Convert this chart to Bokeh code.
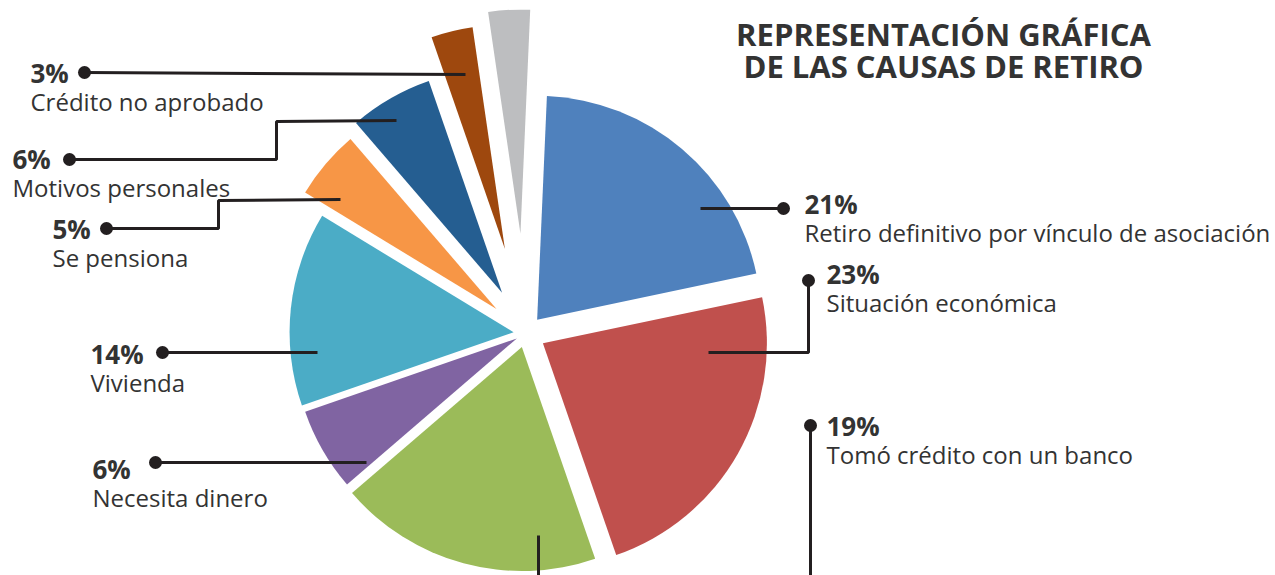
import numpy as np
from bokeh.plotting import figure
from bokeh.models import Range1d
from bokeh.embed import file_html
from bokeh.resources import INLINE
from bokeh.core.properties import value

# ---------------- data ----------------
percents = [21, 23, 19, 6, 14, 5, 6, 3, 3]
categories = [
    "Retiro definitivo por vínculo de asociación",
    "Situación económica",
    "Tomó crédito con un banco",
    "Necesita dinero",
    "Vivienda",
    "Se pensiona",
    "Motivos personales",
    "Crédito no aprobado",
    "",
]
pct_labels = ["21%", "23%", "19%", "6%", "14%", "5%", "6%", "3%", ""]
title_lines = ["REPRESENTACIÓN GRÁFICA", "DE LAS CAUSAS DE RETIRO"]

# ---------------- style ----------------
colors = ["#4F81BD", "#C0504D", "#9BBB59", "#8064A2", "#4BACC6",
          "#F79646", "#255E91", "#9E480E", "#BDBEC0"]
explode = np.array([18, 20, 14, 10, 12, 38, 47, 87, 100], dtype=float)

W, H = 1275, 575
CX, CY = 525, H - 333
R = 224
START = 2.5  # degrees clockwise from 12 o'clock
FONT = "Open Sans"
TXT = "#333333"
LINE = "#231F20"

def Y(y):
    return H - y

p = figure(width=W, height=H, output_backend="svg", toolbar_location=None,
           x_range=Range1d(0, W), y_range=Range1d(0, H), min_border=0)
p.axis.visible = False
p.grid.visible = False
p.outline_line_color = None
p.background_fill_color = "white"
p.border_fill_color = "white"

vals = np.array(percents, dtype=float)
ends = START + 360 * np.cumsum(vals) / vals.sum()
starts = ends - 360 * vals / vals.sum()
bis = np.radians((starts + ends) / 2)
xs = CX + explode * np.sin(bis)
ys = CY + explode * np.cos(bis)
p.wedge(x=xs, y=ys, radius=R,
        start_angle=np.radians(90 - ends), end_angle=np.radians(90 - starts),
        direction="anticlock", fill_color=colors, line_color=None)

# ---------------- leader lines (screen coords, y down) ----------------
leaders = [
    [(700, 208), (783, 208)],                       # 21%
    [(708, 352), (808, 352), (808, 280)],           # 23%
    [(810, 425), (810, 580)],                       # 19%
    [(366, 462), (155, 462)],                       # 6% Necesita
    [(317, 352), (162, 352)],                       # 14%
    [(340, 199), (218, 200), (218, 228), (106, 228)],   # 5%
    [(396, 120), (276, 121), (276, 159), (69, 159)],    # 6% Motivos
    [(465, 74), (84, 72)],                          # 3%
]
for pts in leaders:
    p.line([a for a, b in pts], [Y(b) for a, b in pts], line_color=LINE,
           line_width=3)
p.line([538, 538], [Y(535), Y(580)], line_color=LINE, line_width=3)

dots = [(783, 208), (808, 280), (810, 425), (155, 462), (162, 352),
        (106, 228), (69, 159), (84, 72)]
p.scatter([d[0] for d in dots], [Y(d[1]) for d in dots], size=13,
          fill_color=LINE, line_color=None)

# ---------------- labels ----------------
label_pos = [(804, 203), (826, 273), (826, 425), (92, 468), (90, 353),
             (52, 228), (12, 158), (30, 72)]
for i, (lx, ly) in enumerate(label_pos):
    p.text([lx], [Y(ly)], text=[pct_labels[i]], text_font=value(FONT),
           text_font_style="bold", text_font_size="26px", text_color=TXT,
           text_align="left", text_baseline="middle")
    p.text([lx], [Y(ly + 29)], text=[categories[i]], text_font=value(FONT),
           text_font_size="24px", text_color=TXT,
           text_align="left", text_baseline="middle")

for k, t in enumerate(title_lines):
    p.text([943], [Y(33 + 32 * k)], text=[t], text_font=value(FONT),
           text_font_style="bold", text_font_size="31px", text_color=TXT,
           text_align="center", text_baseline="middle")

open("out.html", "w").write(file_html(p, INLINE))
